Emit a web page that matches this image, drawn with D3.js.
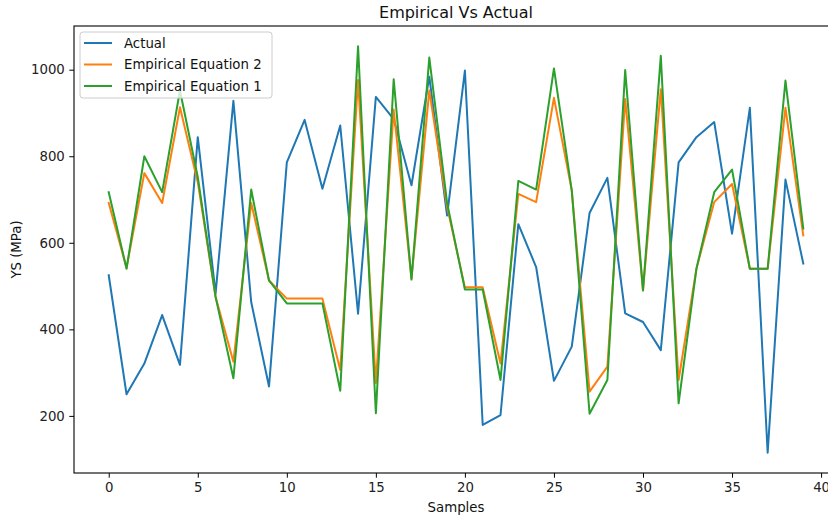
<!DOCTYPE html>
<html>
<head>
<meta charset="utf-8">
<script src="https://cdn.jsdelivr.net/npm/d3@7"></script>
<style>
  html, body { margin: 0; padding: 0; background: #fff; }
  svg { display: block; font-family: "DejaVu Sans", sans-serif; }
</style>
</head>
<body>
<svg id="chart" width="828" height="518"></svg>
<script>
const samples = d3.range(40);
const actual = [525, 250, 321, 433, 318, 844, 483, 928, 463, 268, 786, 884, 725, 871, 436, 937, 886, 733, 984, 663,
                998, 179, 202, 643, 544, 281, 360, 669, 750, 437, 417, 352, 786, 844, 879, 621, 912, 115, 746, 552];
const empirical2 = [692, 542, 761, 692, 913, 740, 475, 325, 692, 513, 471, 471, 471, 306, 976, 276, 908, 517, 952, 683,
                    497, 497, 321, 713, 694, 935, 721, 256, 314, 932, 490, 955, 283, 540, 694, 736, 540, 540, 912, 617];
const empirical1 = [717, 540, 800, 717, 952, 752, 475, 287, 723, 513, 460, 460, 460, 258, 1054, 206, 978, 515, 1028, 692,
                    492, 492, 283, 743, 723, 1003, 721, 205, 283, 999, 490, 1032, 229, 540, 717, 769, 540, 540, 975, 633];
const seriesNames = ["Actual", "Empirical Equation 2", "Empirical Equation 1"];
const seriesColors = ["#1f77b4", "#ff7f0e", "#2ca02c"];
const xTicks = [0, 5, 10, 15, 20, 25, 30, 35, 40];
const yTicks = [200, 400, 600, 800, 1000];
const titleText = "Empirical Vs Actual";
const xLabel = "Samples";
const yLabel = "YS (MPa)";

const series = [actual, empirical2, empirical1];

const mLeft = 74, mRight = 838, mTop = 26, mBottom = 473;
const svg = d3.select("#chart");

// scales with matplotlib-style 5% margins
const xMin = 0, xMax = samples.length - 1;
const xPad = (xMax - xMin) * 0.05;
const x = d3.scaleLinear().domain([xMin - xPad, xMax + xPad]).range([mLeft, mRight]);
const allVals = series.flat();
const yMin = d3.min(allVals), yMax = d3.max(allVals);
const yPad = (yMax - yMin) * 0.05;
const y = d3.scaleLinear().domain([yMin - yPad, yMax + yPad]).range([mBottom, mTop]);

const fs = 13.3;

// lines
const line = d3.line().x((d, i) => x(samples[i])).y(d => y(d));
svg.append("clipPath").attr("id", "clip")
  .append("rect").attr("x", mLeft).attr("y", mTop).attr("width", mRight - mLeft).attr("height", mBottom - mTop);
const plot = svg.append("g").attr("clip-path", "url(#clip)");
series.forEach((s, k) => {
  plot.append("path").datum(s)
    .attr("d", line)
    .attr("fill", "none")
    .attr("stroke", seriesColors[k])
    .attr("stroke-width", 2)
    .attr("stroke-linejoin", "round")
    .attr("stroke-linecap", "square");
});

// axes
const xAxis = d3.axisBottom(x).tickValues(xTicks).tickSize(4.7).tickPadding(4.5).tickFormat(d3.format("d"));
const yAxis = d3.axisLeft(y).tickValues(yTicks).tickSize(4.7).tickPadding(4.5).tickFormat(d3.format("d"));
const gx = svg.append("g").attr("transform", `translate(0,${mBottom})`).call(xAxis);
const gy = svg.append("g").attr("transform", `translate(${mLeft},0)`).call(yAxis);
[gx, gy].forEach(g => {
  g.select(".domain").remove();
  g.selectAll(".tick line").attr("stroke", "#000").attr("stroke-width", 1);
  g.selectAll(".tick text").attr("font-size", fs).attr("fill", "#222").attr("font-family", "DejaVu Sans");
});

// spines
svg.append("rect").attr("x", mLeft).attr("y", mTop).attr("width", mRight - mLeft).attr("height", mBottom - mTop)
  .attr("fill", "none").attr("stroke", "#000").attr("stroke-width", 1.1);

// title & labels
svg.append("text").attr("x", (mLeft + mRight) / 2).attr("y", 18).attr("text-anchor", "middle")
  .attr("font-size", 16).attr("fill", "#111").text(titleText);
svg.append("text").attr("x", (mLeft + mRight) / 2).attr("y", 512).attr("text-anchor", "middle")
  .attr("font-size", fs).attr("fill", "#111").text(xLabel);
svg.append("text").attr("transform", `translate(21,${(mTop + mBottom) / 2}) rotate(-90)`).attr("text-anchor", "middle")
  .attr("font-size", fs).attr("fill", "#111").text(yLabel);

// legend
const lg = svg.append("g").attr("transform", "translate(80,32)");
lg.append("rect").attr("width", 192).attr("height", 66).attr("rx", 3)
  .attr("fill", "#fff").attr("fill-opacity", 0.8).attr("stroke", "#ccc").attr("stroke-width", 1);
seriesNames.forEach((name, k) => {
  const yy = 11 + k * 21.5;
  lg.append("line").attr("x1", 4).attr("x2", 32).attr("y1", yy).attr("y2", yy)
    .attr("stroke", seriesColors[k]).attr("stroke-width", 2);
  lg.append("text").attr("x", 44).attr("y", yy + 4.8).attr("font-size", fs).attr("fill", "#111").text(name);
});
</script>
</body>
</html>
